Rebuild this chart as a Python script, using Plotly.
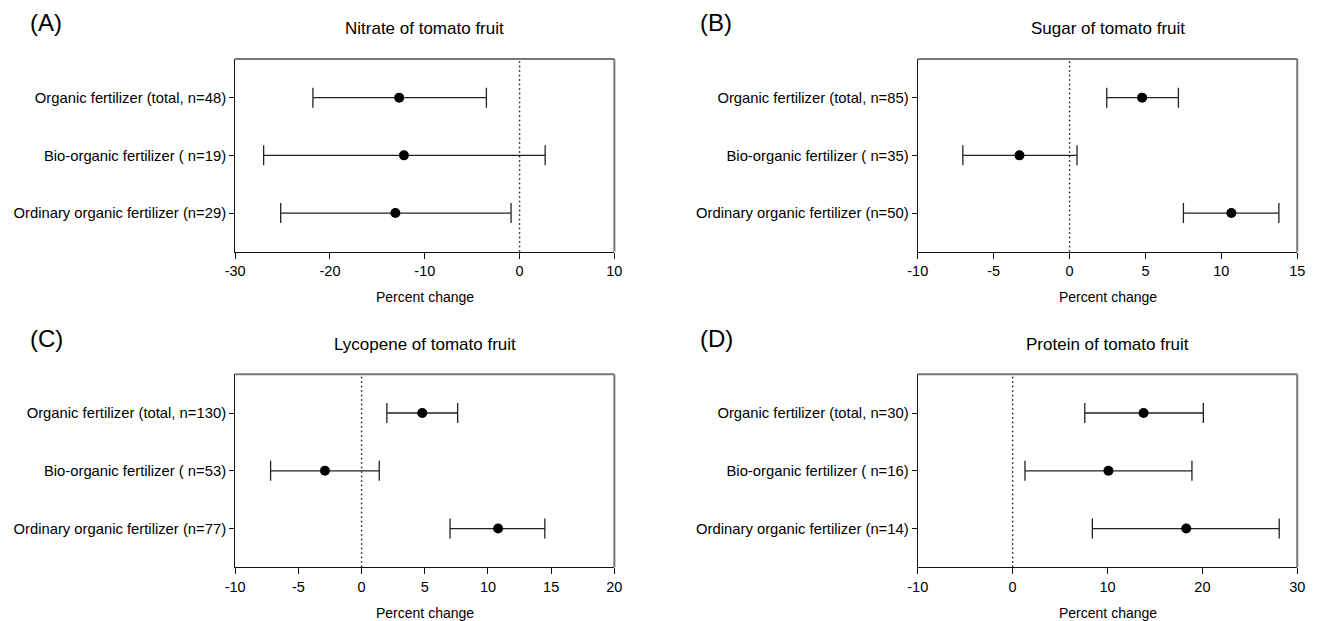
import plotly.graph_objects as go

# ---------------- data ----------------
panel_letters = ["(A)", "(B)", "(C)", "(D)"]
panel_titles = ["Nitrate of tomato fruit", "Sugar of tomato fruit",
                "Lycopene of tomato fruit", "Protein of tomato fruit"]

nitrate_labels = ["Organic fertilizer (total, n=48)", "Bio-organic fertilizer ( n=19)",
                  "Ordinary organic fertilizer (n=29)"]
nitrate_mean = [-12.7, -12.2, -13.1]
nitrate_low = [-21.8, -27.0, -25.2]
nitrate_high = [-3.5, 2.7, -0.9]

sugar_labels = ["Organic fertilizer (total, n=85)", "Bio-organic fertilizer ( n=35)",
                "Ordinary organic fertilizer (n=50)"]
sugar_mean = [4.78, -3.3, 10.66]
sugar_low = [2.45, -7.03, 7.5]
sugar_high = [7.17, 0.49, 13.79]

lycopene_labels = ["Organic fertilizer (total, n=130)", "Bio-organic fertilizer ( n=53)",
                   "Ordinary organic fertilizer (n=77)"]
lycopene_mean = [4.8, -2.9, 10.8]
lycopene_low = [2.0, -7.2, 7.0]
lycopene_high = [7.6, 1.4, 14.5]

protein_labels = ["Organic fertilizer (total, n=30)", "Bio-organic fertilizer ( n=16)",
                  "Ordinary organic fertilizer (n=14)"]
protein_mean = [13.8, 10.1, 18.3]
protein_low = [7.6, 1.3, 8.4]
protein_high = [20.1, 18.9, 28.1]

x_ranges = [[-30, 10], [-10, 15], [-10, 20], [-10, 30]]
x_tickvals = [[-30, -20, -10, 0, 10], [-10, -5, 0, 5, 10, 15],
              [-10, -5, 0, 5, 10, 15, 20], [-10, 0, 10, 20, 30]]
x_ticktext = [["-30", "-20", "-10", "0", "10"], ["-10", "-5", "0", "5", "10", "15"],
              ["-10", "-5", "0", "5", "10", "15", "20"], ["-10", "0", "10", "20", "30"]]
x_title = "Percent change"

panels = [
    (nitrate_labels, nitrate_mean, nitrate_low, nitrate_high),
    (sugar_labels, sugar_mean, sugar_low, sugar_high),
    (lycopene_labels, lycopene_mean, lycopene_low, lycopene_high),
    (protein_labels, protein_mean, protein_low, protein_high),
]

# ---------------- layout geometry ----------------
W, H = 1323, 621
xdoms = [[228.3 / W, 612.7 / W], [920.3 / W, 1305 / W],
         [228.3 / W, 612.7 / W], [920.3 / W, 1305 / W]]
ydoms = [[1 - 251.7 / H, 1 - 59 / H], [1 - 251.7 / H, 1 - 59 / H],
         [1 - 567.3 / H, 1 - 374.3 / H], [1 - 567.3 / H, 1 - 374.3 / H]]
plot_tops = [59, 59, 374.3, 374.3]
plot_bottoms = [251.7, 251.7, 567.3, 567.3]
letter_x = [18, 697, 18, 697]

FONT = "Liberation Sans, Arial, sans-serif"

fig = go.Figure()
annotations = []
shapes = []

for i, (labels, mean, low, high) in enumerate(panels):
    n = i + 1
    xa = "x" if n == 1 else f"x{n}"
    ya = "y" if n == 1 else f"y{n}"
    pos = [1, 2, 3]
    plus = [h - m for h, m in zip(high, mean)]
    minus = [m - l for m, l in zip(mean, low)]
    fig.add_trace(go.Scatter(
        x=mean, y=pos, mode="markers", xaxis=xa, yaxis=ya,
        marker=dict(color="black", size=10),
        error_x=dict(type="data", symmetric=False, array=plus, arrayminus=minus,
                     color="#222222", thickness=1.3, width=10),
        showlegend=False, hoverinfo="x+y",
    ))
    xkey = "xaxis" if n == 1 else f"xaxis{n}"
    ykey = "yaxis" if n == 1 else f"yaxis{n}"
    fig.layout[xkey] = dict(
        domain=xdoms[i], anchor=ya, range=x_ranges[i],
        tickmode="array", tickvals=x_tickvals[i], ticktext=x_ticktext[i],
        showgrid=False, zeroline=False, showline=True, linecolor="#111111", linewidth=1.3,
        ticks="outside", ticklen=6, tickwidth=1.3, tickcolor="#111111",
        tickfont=dict(family=FONT, size=14.5, color="black"),
    )
    fig.layout[ykey] = dict(
        domain=ydoms[i], anchor=xa, range=[3.67, 0.33],
        tickmode="array", tickvals=pos, ticktext=labels,
        showgrid=False, zeroline=False, showline=True, linecolor="#111111", linewidth=1.3,
        ticks="outside", ticklen=5, tickwidth=1.3, tickcolor="#111111",
        tickfont=dict(family=FONT, size=14.8, color="black"),
    )
    # zero dotted line
    shapes.append(dict(type="line", xref=xa, yref=f"{ya} domain", x0=0, x1=0, y0=0, y1=1,
                       line=dict(color="#111111", width=1.4, dash="1.5px,3px"), layer="below"))
    # top and right grey border
    shapes.append(dict(type="line", xref=f"{xa} domain", yref=f"{ya} domain", x0=0, x1=1, y0=1, y1=1,
                       line=dict(color="#777777", width=2)))
    shapes.append(dict(type="line", xref=f"{xa} domain", yref=f"{ya} domain", x0=1, x1=1, y0=0, y1=1,
                       line=dict(color="#777777", width=2)))
    cx = (xdoms[i][0] + xdoms[i][1]) / 2
    # panel title
    annotations.append(dict(text=panel_titles[i], xref="paper", yref="paper",
                            x=cx, y=1 - (plot_tops[i] - 30) / H, xanchor="center", yanchor="middle",
                            showarrow=False, font=dict(family=FONT, size=17, color="black")))
    # x axis title
    annotations.append(dict(text=x_title, xref="paper", yref="paper",
                            x=cx, y=1 - (plot_bottoms[i] + 45.5) / H, xanchor="center", yanchor="middle",
                            showarrow=False, font=dict(family=FONT, size=14, color="black")))
    # panel letter
    annotations.append(dict(text=panel_letters[i], xref="paper", yref="paper",
                            x=letter_x[i] / W, y=1 - (plot_tops[i] - 36) / H, xanchor="left", yanchor="middle",
                            showarrow=False, font=dict(family=FONT, size=24, color="black")))

fig.update_layout(
    width=W, height=H, margin=dict(l=0, r=0, t=0, b=0),
    paper_bgcolor="white", plot_bgcolor="white",
    annotations=annotations, shapes=shapes,
    font=dict(family=FONT, color="black"),
)

fig.write_html("out.html")
